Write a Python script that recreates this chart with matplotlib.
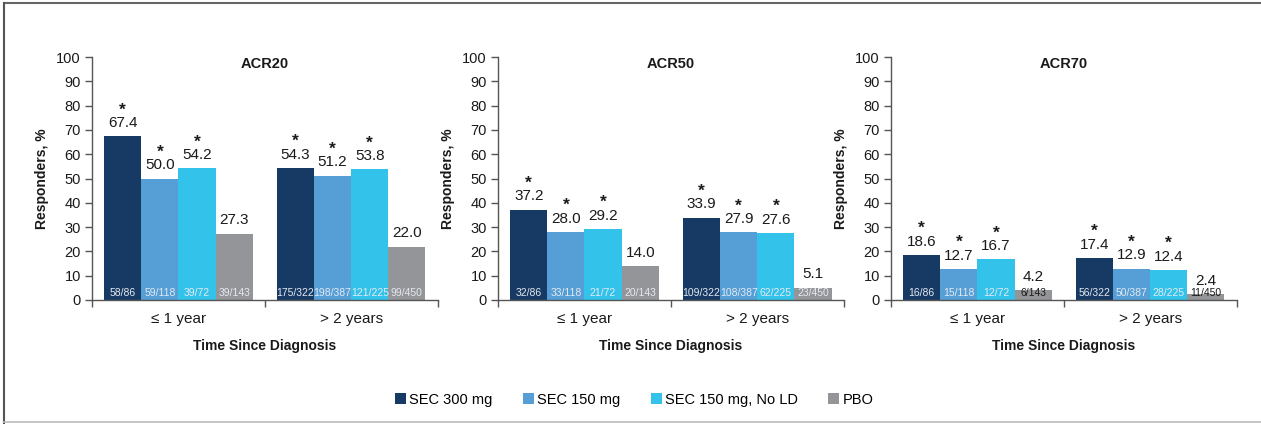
import numpy as np
import matplotlib
matplotlib.use("Agg")
import matplotlib.pyplot as plt
from matplotlib.patches import Patch
from matplotlib.lines import Line2D

plt.rcParams['font.family'] = ['Liberation Sans', 'DejaVu Sans']

groups = ["\u2264 1 year", "> 2 years"]
treatments = ["SEC 300 mg", "SEC 150 mg", "SEC 150 mg, No LD", "PBO"]
colors = ["#173a64", "#559fd6", "#33c3ea", "#939598"]

panels = ["ACR20", "ACR50", "ACR70"]

# response rates (%) per panel: [treatment][group]
acr20 = [[67.4, 54.3], [50.0, 51.2], [54.2, 53.8], [27.3, 22.0]]
acr50 = [[37.2, 33.9], [28.0, 27.9], [29.2, 27.6], [14.0, 5.1]]
acr70 = [[18.6, 17.4], [12.7, 12.9], [16.7, 12.4], [4.2, 2.4]]

# responders / patients
n20 = [["58/86", "175/322"], ["59/118", "198/387"], ["39/72", "121/225"], ["39/143", "99/450"]]
n50 = [["32/86", "109/322"], ["33/118", "108/387"], ["21/72", "62/225"], ["20/143", "23/450"]]
n70 = [["16/86", "56/322"], ["15/118", "50/387"], ["12/72", "28/225"], ["6/143", "11/450"]]

# significance vs placebo
sig = [[True, True], [True, True], [True, True], [False, False]]

values = [acr20, acr50, acr70]
counts = [n20, n50, n70]

fig = plt.figure(figsize=(12.61, 4.24), dpi=100)

lefts = [0.073, 0.395, 0.7066]
bw = 0.215
x = np.arange(len(groups))

for p, name in enumerate(panels):
    ax = fig.add_axes([lefts[p], 0.2925, 0.274, 0.573])
    for t in range(len(treatments)):
        xs = x + (t - 1.5) * bw
        ax.bar(xs, values[p][t], width=bw, color=colors[t], edgecolor='none')
        for g in range(len(groups)):
            v = values[p][t][g]
            ax.annotate(f"{v:.1f}", (xs[g], v), xytext=(0, 9.5), textcoords='offset points',
                        ha='center', va='center', fontsize=11, color='#1a1a1a')
            if sig[t][g]:
                ax.annotate("*", (xs[g], v), xytext=(0, 19), textcoords='offset points',
                            ha='center', va='center', fontsize=12.5, fontweight='bold',
                            color='#1a1a1a')
            tc = '#e6e9f0' if v > 4.5 else '#1a1a1a'
            ax.text(xs[g], 2.9, counts[p][t][g], ha='center', va='center',
                    fontsize=7.5, color=tc)

    ax.set_xlim(-0.5, 1.5)
    ax.set_ylim(0, 100)
    ax.set_yticks(np.arange(0, 101, 10))
    ax.set_xticks(x)
    ax.set_xticklabels(groups)
    ax.set_xticks([-0.5, 0.5, 1.5], minor=True)
    ax.tick_params(axis='x', which='major', length=0, pad=9, labelsize=11, labelcolor='#1a1a1a')
    ax.tick_params(axis='x', which='minor', length=5, width=1, color='#555555', direction='out')
    ax.tick_params(axis='y', length=5, width=1, color='#555555', labelsize=10.5, pad=3,
                   labelcolor='#1a1a1a')
    for s in ['top', 'right']:
        ax.spines[s].set_visible(False)
    for s in ['left', 'bottom']:
        ax.spines[s].set_color('#555555')
        ax.spines[s].set_linewidth(1)
    ax.set_ylabel("Responders, %", fontsize=10, fontweight='bold', labelpad=5, color='#1a1a1a')
    ax.set_xlabel("Time Since Diagnosis", fontsize=10, fontweight='bold', labelpad=9,
                  color='#1a1a1a')
    ax.text(0.5, 97, name, ha='center', va='center', fontsize=10.5, fontweight='bold',
            color='#1a1a1a')

handles = [Patch(facecolor=c, edgecolor='none') for c in colors]
fig.legend(handles, treatments, loc='center', bbox_to_anchor=(0.503, 0.057), ncol=4,
           frameon=False, fontsize=10.5, handlelength=0.75, handleheight=0.75,
           handletextpad=0.2, columnspacing=2.1)

# frame lines
fig.add_artist(Line2D([4 / 1261, 1], [1 - 2.5 / 424] * 2, color='#666666', lw=1.5,
                      transform=fig.transFigure))
fig.add_artist(Line2D([4 / 1261] * 2, [0, 1 - 2.5 / 424], color='#555555', lw=1.5,
                      transform=fig.transFigure))
fig.add_artist(Line2D([4 / 1261, 1], [2 / 424] * 2, color='#bbbbbb', lw=1.2,
                      transform=fig.transFigure))

fig.savefig("out.png", dpi=100)
